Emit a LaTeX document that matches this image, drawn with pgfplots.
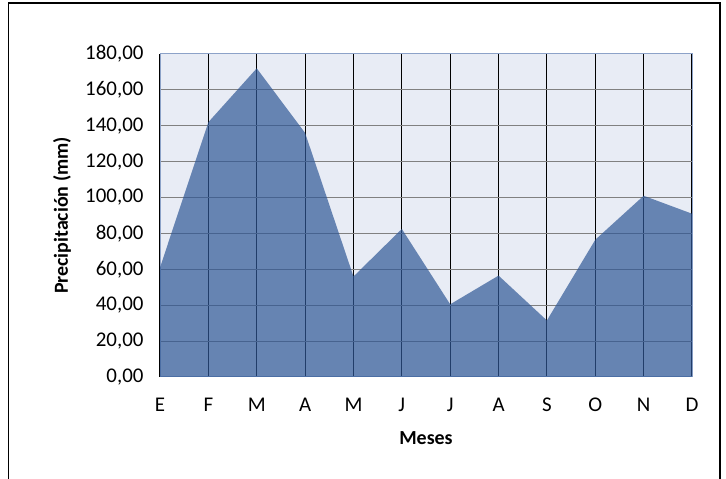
\documentclass[border=0pt]{standalone}
\usepackage{pgfplots}
\pgfplotsset{compat=1.18}
\usepackage{fontspec}
\setmainfont{Carlito}
\definecolor{plotbg}{RGB}{232,236,245}
\definecolor{areafill}{RGB}{48,88,150}
\definecolor{hgrid}{RGB}{128,128,128}
\definecolor{boxline}{RGB}{140,162,200}

\begin{document}
\begin{tikzpicture}[x=1bp,y=1bp]
\useasboundingbox (0,0) rectangle (726,479);
\draw[black, line width=1.2bp] (8.5,0) -- (8.5,476) -- (720,476) -- (720,0);
\begin{axis}[
  at={(160bp,102bp)}, anchor=south west,
  scale only axis, width=532bp, height=323bp,
  xmin=0, xmax=11, ymin=0, ymax=180,
  xtick={0,...,11},
  xticklabels={E,F,M,A,M,J,J,A,S,O,N,D},
  ytick={0,20,...,180},
  major tick length=0pt,
  axis background/.style={fill=plotbg},
  axis line style={draw=boxline, line width=1bp},
  xmajorgrids, ymajorgrids,
  x grid style={black, line width=1.1bp},
  y grid style={hgrid, line width=1bp},
  tick label style={font=\fontsize{21}{25}\selectfont, text=black},
  /pgf/number format/fixed,
  /pgf/number format/fixed zerofill,
  /pgf/number format/precision=2,
  /pgf/number format/use comma,
  /pgf/number format/assume math mode=true,
  /pgf/number format/1000 sep={},
  yticklabel style={xshift=-13bp},
  xticklabel style={yshift=-17bp, text height=14bp, text depth=0pt},
  label style={font=\bfseries\fontsize{20}{24}\selectfont},
  ylabel={Precipitación (mm)},
  xlabel={Meses},
  ylabel style={at={(axis description cs:-0.184,0.5)}, anchor=center},
  xlabel style={at={(axis description cs:0.5,-0.189)}, anchor=center},
]
\addplot[fill=areafill, fill opacity=0.7, draw=none] coordinates {
  (0,61) (1,142) (2,172) (3,136) (4,56) (5,82.5)
  (6,40.5) (7,56.5) (8,31.5) (9,76.5) (10,101) (11,91)
} \closedcycle;
\end{axis}
\end{tikzpicture}
\end{document}
